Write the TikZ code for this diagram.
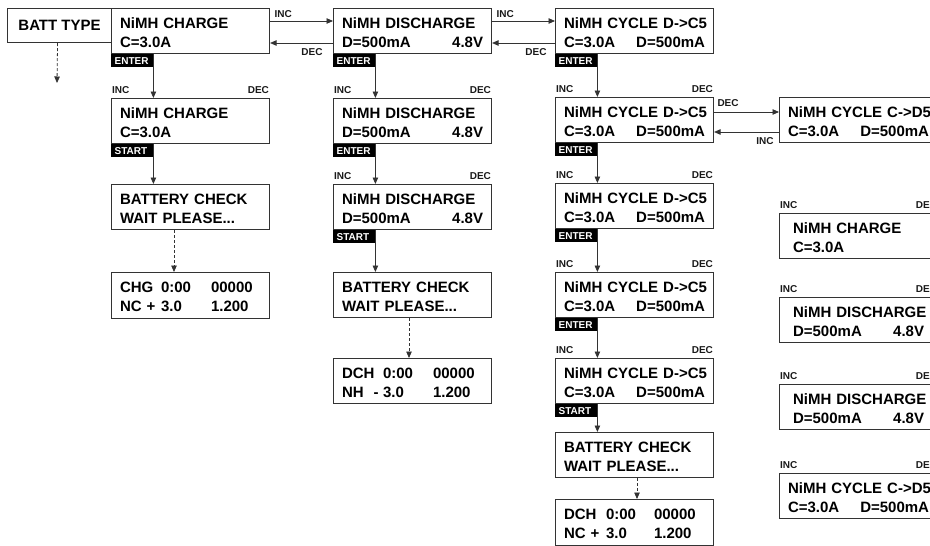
\documentclass[tikz,border=0pt]{standalone}
\usepackage{fontspec}
\setmainfont{Liberation Sans}
\usetikzlibrary{arrows.meta}

% two lines of an LCD screen, the second one spread over the full width
\newcommand{\lcd}[2]{\mbox{\rule{0pt}{14pt}#1}\\\hbox to \hsize{#2\hfil}}

\tikzset{
  lcdframe/.style={draw=black!80, line width=1.1pt, anchor=north west,
    inner ysep=0pt, font=\fontsize{15}{19}\selectfont\bfseries},
  screen/.style={lcdframe, minimum width=158pt, minimum height=45pt,
    inner xsep=8.5pt, text width=141pt, align=left},
  rscreen/.style={screen, inner xsep=13.5pt, text width=131pt},
  keytag/.style={fill=black, text=white, anchor=north west, minimum width=42pt,
    minimum height=13pt, inner xsep=3.5pt, inner ysep=0pt, text width=35pt,
    font=\fontsize{10}{10}\selectfont\bfseries},
  keylbl/.style={text=black!90, inner sep=1pt, font=\fontsize{10}{10}\selectfont\bfseries},
  incdec/.style={label={[keylbl, anchor=south west, yshift=3pt]north west:INC},
    label={[keylbl, anchor=south east, yshift=3pt]north east:DEC}},
  flow/.style={draw=black!80, line width=0.8pt, -{Triangle[length=6.5pt,width=5.5pt]}},
  waitflow/.style={flow, dash pattern=on 3pt off 2pt},
}

\begin{document}
\begin{tikzpicture}[x=1pt, y=-1pt]
      \useasboundingbox (0,0) rectangle (930,546);
      \clip (0,0) rectangle (930,546);

      % Top row of menus
      \node[lcdframe, minimum width=104pt, minimum height=34pt, inner xsep=0pt]
        (batt) at (7,8) {BATT TYPE};
      \node[screen] (chg1) at (111,8) {\lcd{NiMH CHARGE}{C=3.0A}};
      \node[screen] (dis1) at (333,8) {\lcd{NiMH DISCHARGE}{D=500mA\hfill 4.8V}};
      \node[screen] (cyc1) at (555,8) {\lcd{NiMH CYCLE D->C5}{C=3.0A\hfill D=500mA}};
      \node[keytag] (chg1key) at (chg1.south west) {ENTER};
      \node[keytag] (dis1key) at (dis1.south west) {ENTER};
      \node[keytag] (cyc1key) at (cyc1.south west) {ENTER};

      \coordinate (battend) at (57,83);
      \draw[waitflow] ([xshift=-2pt]batt.south) -- (battend);

      \draw[flow] ([yshift=-13pt]chg1.north east) -- ([yshift=-13pt]dis1.north west)
        node[keylbl, pos=0, anchor=south west, xshift=3pt, yshift=2pt] {INC};
      \draw[flow] ([yshift=-35pt]dis1.north west) -- ([yshift=-35pt]chg1.north east)
        node[keylbl, pos=0, anchor=north east, xshift=-9pt, yshift=-4pt] {DEC};
      \draw[flow] ([yshift=-13pt]dis1.north east) -- ([yshift=-13pt]cyc1.north west)
        node[keylbl, pos=0, anchor=south west, xshift=3pt, yshift=2pt] {INC};
      \draw[flow] ([yshift=-35pt]cyc1.north west) -- ([yshift=-35pt]dis1.north east)
        node[keylbl, pos=0, anchor=north east, xshift=-7pt, yshift=-4pt] {DEC};

      % Charge column
      \node[screen, incdec] (chg2) at (111,98) {\lcd{NiMH CHARGE}{C=3.0A}};
      \node[keytag] (chg2key) at (chg2.south west) {START};
      \node[screen] (chgchk) at (111,184) {\lcd{BATTERY CHECK}{WAIT PLEASE...}};
      \node[screen, minimum height=46pt] (chgrun) at (111,272)
        {\lcd{\makebox[41pt][l]{CHG}\makebox[50pt][l]{0:00}00000}
             {\makebox[41pt][l]{NC +}\makebox[50pt][l]{3.0}1.200}};
      \draw[flow] (chg1key.north east) -- (chg1key.north east |- chg2.north);
      \draw[flow] (chg2key.north east) -- (chg2key.north east |- chgchk.north);
      \draw[waitflow] ([xshift=63pt]chgchk.south west) -- ([xshift=63pt]chgrun.north west);

      % Discharge column
      \node[screen, incdec] (dis2) at (333,98) {\lcd{NiMH DISCHARGE}{D=500mA\hfill 4.8V}};
      \node[keytag] (dis2key) at (dis2.south west) {ENTER};
      \node[screen, incdec] (dis3) at (333,184) {\lcd{NiMH DISCHARGE}{D=500mA\hfill 4.8V}};
      \node[keytag] (dis3key) at (dis3.south west) {START};
      \node[screen] (dischk) at (333,272) {\lcd{BATTERY CHECK}{WAIT PLEASE...}};
      \node[screen] (disrun) at (333,358)
        {\lcd{\makebox[41pt][l]{DCH}\makebox[50pt][l]{0:00}00000}
             {\makebox[41pt][l]{NH\ \ -}\makebox[50pt][l]{3.0}1.200}};
      \draw[flow] (dis1key.north east) -- (dis1key.north east |- dis2.north);
      \draw[flow] (dis2key.north east) -- (dis2key.north east |- dis3.north);
      \draw[flow] (dis3key.north east) -- (dis3key.north east |- dischk.north);
      \draw[waitflow] ([xshift=76pt]dischk.south west) -- ([xshift=76pt]disrun.north west);

      % Cycle column
      \node[screen, incdec] (cyc2) at (555,97) {\lcd{NiMH CYCLE D->C5}{C=3.0A\hfill D=500mA}};
      \node[keytag] (cyc2key) at (cyc2.south west) {ENTER};
      \node[screen, incdec] (cyc3) at (555,183) {\lcd{NiMH CYCLE D->C5}{C=3.0A\hfill D=500mA}};
      \node[keytag] (cyc3key) at (cyc3.south west) {ENTER};
      \node[screen, incdec] (cyc4) at (555,272) {\lcd{NiMH CYCLE D->C5}{C=3.0A\hfill D=500mA}};
      \node[keytag] (cyc4key) at (cyc4.south west) {ENTER};
      \node[screen, incdec] (cyc5) at (555,358) {\lcd{NiMH CYCLE D->C5}{C=3.0A\hfill D=500mA}};
      \node[keytag] (cyc5key) at (cyc5.south west) {START};
      \node[screen] (cycchk) at (555,432) {\lcd{BATTERY CHECK}{WAIT PLEASE...}};
      \node[screen, minimum height=46pt] (cycrun) at (555,499)
        {\lcd{\makebox[42pt][l]{DCH}\makebox[48pt][l]{0:00}00000}
             {\makebox[42pt][l]{NC +}\makebox[48pt][l]{3.0}1.200}};
      \draw[flow] (cyc1key.north east) -- (cyc1key.north east |- cyc2.north);
      \draw[flow] (cyc2key.north east) -- (cyc2key.north east |- cyc3.north);
      \draw[flow] (cyc3key.north east) -- (cyc3key.north east |- cyc4.north);
      \draw[flow] (cyc4key.north east) -- (cyc4key.north east |- cyc5.north);
      \draw[flow] (cyc5key.north east) -- (cyc5key.north east |- cycchk.north);
      \draw[waitflow] ([xshift=82pt]cycchk.south west) -- ([xshift=82pt]cycrun.north west);

      % Reverse cycle and right column
      \node[screen] (rcyc) at (779,97) {\lcd{NiMH CYCLE C->D5}{C=3.0A\hfill D=500mA}};
      \draw[flow] ([yshift=-15pt]cyc2.north east) -- ([yshift=-15pt]rcyc.north west)
        node[keylbl, pos=0, anchor=south west, xshift=2pt, yshift=4pt] {DEC};
      \draw[flow] ([yshift=-35pt]rcyc.north west) -- ([yshift=-35pt]cyc2.north east)
        node[keylbl, pos=0, anchor=north east, xshift=-4pt, yshift=-4pt] {INC};

      \node[rscreen, incdec] (r1) at (779,213) {\lcd{NiMH CHARGE}{C=3.0A}};
      \node[rscreen, incdec] (r2) at (779,297) {\lcd{NiMH DISCHARGE}{D=500mA\hfill 4.8V}};
      \node[rscreen, incdec] (r3) at (779,384) {\lcd{NiMH DISCHARGE}{D=500mA\hfill 4.8V}};
      \node[screen, incdec] (r4) at (779,473) {\lcd{NiMH CYCLE C->D5}{C=3.0A\hfill D=500mA}};
    \end{tikzpicture}
\end{document}
